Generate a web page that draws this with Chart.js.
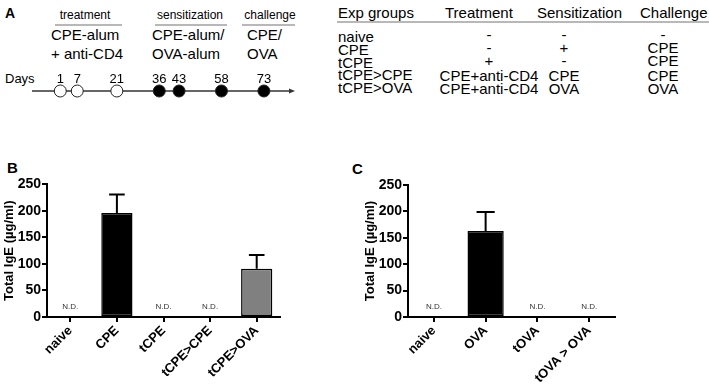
<!DOCTYPE html>
<html>
<head>
<meta charset="utf-8">
<script src="https://cdn.jsdelivr.net/npm/chart.js@4"></script>
<style>
  body { margin: 0; background: #fff; }
  #page { position: relative; width: 709px; height: 387px; overflow: hidden; font-family: "Liberation Sans", Arial, sans-serif; color: #000; }
  .t { position: absolute; white-space: nowrap; line-height: 1; }
  .c { text-align: center; width: 140px; }
  .rule { position: absolute; height: 1.5px; background: #b8b8b8; }
  canvas { position: absolute; }
</style>
</head>
<body>
<div id="page">
  <div class="t" style="left:5px;top:6px;font-size:14px;font-weight:bold">A</div>
  <div class="t c" style="left:15px;top:9px;font-size:12px">treatment</div>
  <div class="t c" style="left:120px;top:9px;font-size:12px">sensitization</div>
  <div class="t c" style="left:200px;top:9px;font-size:12px">challenge</div>
  <div class="rule" style="left:55px;top:24px;width:67px"></div>
  <div class="rule" style="left:155px;top:24px;width:72px"></div>
  <div class="rule" style="left:242px;top:24px;width:53px"></div>
  <div class="t" style="left:51px;top:27px;font-size:15px">CPE-alum</div>
  <div class="t" style="left:51px;top:45.5px;font-size:15px">+ anti-CD4</div>
  <div class="t" style="left:152px;top:27px;font-size:15px">CPE-alum/</div>
  <div class="t" style="left:152px;top:45.5px;font-size:15px">OVA-alum</div>
  <div class="t" style="left:247px;top:27px;font-size:15px">CPE/</div>
  <div class="t" style="left:247px;top:45.5px;font-size:15px">OVA</div>
  <div class="t" style="left:5px;top:72px;font-size:13px">Days</div>
  <canvas id="timeline" width="310" height="62" style="left:0;top:60px"></canvas>

  <div id="table"></div>
  <div class="rule" style="left:337px;top:21px;width:372px"></div>

  <div class="t" style="left:7px;top:160px;font-size:15px;font-weight:bold">B</div>
  <canvas id="chartB" width="290" height="212" style="left:0;top:175px"></canvas>
  <div class="t" style="left:352px;top:161px;font-size:15px;font-weight:bold">C</div>
  <canvas id="chartC" width="270" height="212" style="left:355px;top:175px"></canvas>
</div>
<script>
// timeline (panel A)
const days = [1, 7, 21, 36, 43, 58, 73];
const dayPhase = ['treatment', 'treatment', 'treatment', 'sensitization', 'sensitization', 'sensitization', 'challenge'];

// table (panel A)
const tableHeaders = ['Exp groups', 'Treatment', 'Sensitization', 'Challenge'];
const expGroups = ['naive', 'CPE', 'tCPE', 'tCPE>CPE', 'tCPE>OVA'];
const treatment = ['-', '-', '+', 'CPE+anti-CD4', 'CPE+anti-CD4'];
const sensitization = ['-', '+', '-', 'CPE', 'OVA'];
const challenge = ['-', 'CPE', 'CPE', 'CPE', 'OVA'];

// panel B
const groupsB = ['naive', 'CPE', 'tCPE', 'tCPE>CPE', 'tCPE>OVA'];
const igeB = [null, 196, null, null, 91];
const errB = [null, 35, null, null, 26];

// panel C
const groupsC = ['naive', 'OVA', 'tOVA', 'tOVA > OVA'];
const igeC = [null, 163, null, null];
const errC = [null, 36, null, null];

const yTicks = [0, 50, 100, 150, 200, 250];

const FONT = '"Liberation Sans", Arial, sans-serif';

// build the table
const table = document.getElementById('table');
function addText(txt, left, top, size, center) {
  const d = document.createElement('div');
  d.className = 't' + (center ? ' c' : '');
  d.textContent = txt;
  d.style.left = (center ? left - 70 : left) + 'px';
  d.style.top = top + 'px';
  d.style.fontSize = size + 'px';
  table.appendChild(d);
}
const headerLeft = [338, 445, 537, 640];
tableHeaders.forEach((h, i) => addText(h, headerLeft[i], 4.5, 15));
const colCenter = [489, 564, 663];
expGroups.forEach((g, r) => {
  const top = 29 + r * 12.8;
  const shift = r < 3 ? -2 : 1;
  addText(g, 338, top, 15);
  addText(treatment[r], colCenter[0], top + shift, 15, true);
  addText(sensitization[r], colCenter[1], top + shift, 15, true);
  addText(challenge[r], colCenter[2], top + shift, 15, true);
});

// timeline chart
const timelinePlugin = {
  id: 'timelineAxis',
  beforeDatasetsDraw(chart) {
    const {ctx, chartArea} = chart;
    const y0 = chart.scales.y.getPixelForValue(0);
    ctx.save();
    ctx.strokeStyle = '#333';
    ctx.fillStyle = '#333';
    ctx.lineWidth = 1.5;
    ctx.beginPath();
    ctx.moveTo(chartArea.left, y0);
    ctx.lineTo(chartArea.right - 4, y0);
    ctx.stroke();
    ctx.beginPath();
    ctx.moveTo(chartArea.right, y0);
    ctx.lineTo(chartArea.right - 6, y0 - 2.5);
    ctx.lineTo(chartArea.right - 6, y0 + 2.5);
    ctx.closePath();
    ctx.fill();
    ctx.restore();
  },
  afterDatasetsDraw(chart) {
    const {ctx} = chart;
    const y0 = chart.scales.y.getPixelForValue(0);
    ctx.save();
    ctx.fillStyle = '#000';
    ctx.font = '13px ' + FONT;
    ctx.textAlign = 'center';
    ctx.textBaseline = 'alphabetic';
    days.forEach(d => ctx.fillText(String(d), chart.scales.x.getPixelForValue(d), y0 - 8));
    ctx.restore();
  }
};

new Chart(document.getElementById('timeline'), {
  type: 'scatter',
  data: {
    datasets: [{
      data: days.map(d => ({x: d, y: 0})),
      pointRadius: 6,
      pointBorderWidth: 1,
      pointBorderColor: '#222',
      pointBackgroundColor: dayPhase.map(p => p === 'treatment' ? '#fff' : '#000')
    }]
  },
  options: {
    responsive: false,
    animation: false,
    layout: {padding: {left: 32, right: 15, top: 0, bottom: 0}},
    plugins: {legend: {display: false}, tooltip: {enabled: false}},
    scales: {
      x: {type: 'linear', display: false, min: -9, max: 84},
      y: {display: false, min: -1, max: 1}
    }
  },
  plugins: [timelinePlugin]
});

// error bars and N.D. labels for the bar charts
const barExtras = {
  id: 'barExtras',
  afterDatasetsDraw(chart, args, opts) {
    const {ctx} = chart;
    const xs = chart.scales.x, ys = chart.scales.y;
    const meta = chart.getDatasetMeta(0);
    const values = chart.data.datasets[0].data;
    ctx.save();
    values.forEach((v, i) => {
      if (v === null) {
        ctx.fillStyle = '#333';
        ctx.font = '8px ' + FONT;
        ctx.textAlign = 'center';
        ctx.textBaseline = 'alphabetic';
        ctx.fillText('N.D.', xs.getPixelForValue(i), ys.getPixelForValue(0) - 8);
        return;
      }
      const bar = meta.data[i];
      const yTop = ys.getPixelForValue(v + opts.errors[i]);
      const half = bar.width / 4;
      ctx.strokeStyle = '#000';
      ctx.lineWidth = 2;
      ctx.beginPath();
      ctx.moveTo(bar.x, bar.y);
      ctx.lineTo(bar.x, yTop);
      ctx.moveTo(bar.x - half, yTop);
      ctx.lineTo(bar.x + half, yTop);
      ctx.stroke();
    });
    ctx.restore();
  }
};

function barChart(id, labels, values, errors, fills, opt) {
  return new Chart(document.getElementById(id), {
    type: 'bar',
    data: {
      labels: labels,
      datasets: [{
        data: values,
        backgroundColor: fills,
        borderColor: '#000',
        borderWidth: 1.5,
        borderSkipped: false,
        categoryPercentage: 1,
        barPercentage: opt.barPct
      }]
    },
    options: {
      responsive: false,
      animation: false,
      layout: {padding: {top: opt.padTop, right: opt.padRight, left: 0, bottom: 0}},
      plugins: {legend: {display: false}, tooltip: {enabled: false}, barExtras: {errors: errors}},
      scales: {
        x: {
          grid: {drawOnChartArea: false, offset: false, tickLength: 5, color: '#000', lineWidth: 2},
          border: {color: '#000', width: 2},
          ticks: {color: '#000', font: {family: FONT, size: 13, weight: 'bold'}, minRotation: 45, maxRotation: 45, padding: 1},
          afterFit: s => { s.height = 70; }
        },
        y: {
          min: 0,
          max: 250,
          afterBuildTicks: s => { s.ticks = yTicks.map(v => ({value: v})); },
          grid: {drawOnChartArea: false, tickLength: 5, color: '#000', lineWidth: 2},
          border: {color: '#000', width: 2},
          ticks: {color: '#000', font: {family: FONT, size: 14, weight: 'bold'}, padding: 1},
          title: {display: true, text: 'Total IgE (µg/ml)', color: '#000', font: {family: FONT, size: 13, weight: 'bold'}, padding: {top: opt.titlePad, bottom: 0}},
          afterFit: s => { s.width = opt.axisWidth; }
        }
      }
    },
    plugins: [barExtras]
  });
}

barChart('chartB', groupsB, igeB, errB, ['#000', '#000', '#000', '#000', '#808080'],
  {barPct: 0.67, padTop: 8, padRight: 10, axisWidth: 47, titlePad: 1.5});
barChart('chartC', groupsC, igeC, errC, '#000',
  {barPct: 0.70, padTop: 10, padRight: 10, axisWidth: 53, titlePad: 7.5});
</script>
</body>
</html>
